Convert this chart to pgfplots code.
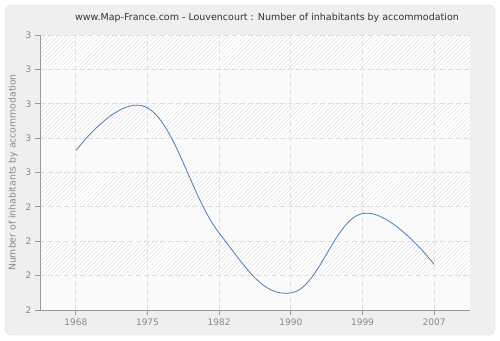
\documentclass[border=0pt]{standalone}
\usepackage{pgfplots}
\pgfplotsset{compat=1.18}
\usepackage{fontspec}
\setmainfont{DejaVu Sans}
\usetikzlibrary{patterns.meta}
\definecolor{panel}{HTML}{EFEFEF}
\definecolor{panelborder}{HTML}{E2E2E2}
\definecolor{titlecol}{HTML}{333333}
\definecolor{tickcol}{HTML}{888888}
\definecolor{axiscol}{HTML}{9A9A9A}
\definecolor{gridcol}{HTML}{DEDEDE}
\definecolor{hatch}{HTML}{E2E2E2}
\definecolor{plainband}{HTML}{FAFAFA}
\definecolor{linecol}{HTML}{4F7DB5}
\begin{document}
\begin{tikzpicture}
\begin{axis}[
  set layers,
  clip=false,
  scale only axis,
  width=430pt, height=275pt,
  at={(40pt,30pt)}, anchor=south west,
  xmin=-0.5, xmax=5.5, ymin=2, ymax=3,
  axis x line*=bottom, axis y line*=left,
  axis line style={draw=axiscol, line width=0.8pt, -},
  xtick={0,1,2,3,4,5},
  xticklabels={1968,1975,1982,1990,1999,2007},
  ytick={2,2.125,2.25,2.375,2.5,2.625,2.75,2.875,3},
  yticklabels={2,2,2,2,3,3,3,3,3},
  tick align=outside,
  major tick length=5pt,
  tick style={draw=axiscol, line width=0.8pt},
  ticklabel style={font=\fontsize{9}{10}\selectfont, text=tickcol},
  /pgf/number format/assume math mode=true,
  grid=major,
  major grid style={draw=gridcol, dash pattern=on 5pt off 3pt, line width=0.8pt},
  ylabel={Number of inhabitants by accommodation},
  ylabel style={at={(axis description cs:-0.0628,0.5)}, anchor=center, font=\fontsize{9.3}{10}\selectfont, text=tickcol},
]
\begin{pgfonlayer}{axis background}
\fill[white] (axis cs:-1.0581,1.8909) rectangle (axis cs:5.9186,3.1273);
\filldraw[fill=panel, draw=panelborder, rounded corners=6pt] (axis cs:-0.988,1.909) rectangle (axis cs:5.849,3.109);
\fill[plainband] (axis cs:-0.5,2) rectangle (axis cs:5.5,3);
\fill[white] (axis cs:-0.5,2.875) rectangle (axis cs:5.5,3);
\fill[white] (axis cs:-0.5,2.625) rectangle (axis cs:5.5,2.75);
\fill[white] (axis cs:-0.5,2.375) rectangle (axis cs:5.5,2.5);
\fill[white] (axis cs:-0.5,2.125) rectangle (axis cs:5.5,2.25);
\fill[pattern={Lines[angle=45,distance=3pt,line width=0.5pt]}, pattern color=hatch] (axis cs:-0.5,2.875) rectangle (axis cs:5.5,3);
\fill[pattern={Lines[angle=45,distance=3pt,line width=0.5pt]}, pattern color=hatch] (axis cs:-0.5,2.625) rectangle (axis cs:5.5,2.75);
\fill[pattern={Lines[angle=45,distance=3pt,line width=0.5pt]}, pattern color=hatch] (axis cs:-0.5,2.375) rectangle (axis cs:5.5,2.5);
\fill[pattern={Lines[angle=45,distance=3pt,line width=0.5pt]}, pattern color=hatch] (axis cs:-0.5,2.125) rectangle (axis cs:5.5,2.25);
\end{pgfonlayer}
\addplot[color=linecol, line width=0.8pt, smooth, tension=0.7, no marks] coordinates {
(0,2.579) (1,2.735) (2,2.28) (3,2.062) (4,2.351) (5,2.166)
};
\end{axis}
\node[font=\fontsize{9.5}{11}\selectfont, text=titlecol] at (267pt,322pt) {www.Map-France.com - Louvencourt : Number of inhabitants by accommodation};
\end{tikzpicture}
\end{document}
